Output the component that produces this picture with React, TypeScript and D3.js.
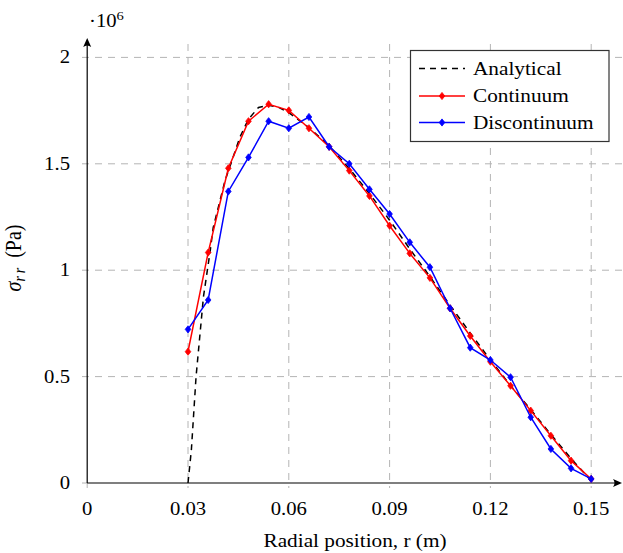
import React from "react";
import * as d3 from "d3";

const W = 623;
const H = 553;

const rPoints = [0.03, 0.036, 0.042, 0.048, 0.054, 0.06, 0.066, 0.072, 0.078, 0.084, 0.09, 0.096, 0.102, 0.108, 0.114, 0.12, 0.126, 0.132, 0.138, 0.144, 0.15];
const continuum = [0.617, 1.083, 1.479, 1.7, 1.78, 1.751, 1.667, 1.58, 1.468, 1.349, 1.209, 1.079, 0.964, 0.821, 0.691, 0.57, 0.457, 0.34, 0.222, 0.105, 0.019];
const discontinuum = [0.722, 0.86, 1.37, 1.53, 1.7, 1.667, 1.72, 1.58, 1.5, 1.38, 1.264, 1.131, 1.014, 0.821, 0.636, 0.578, 0.497, 0.309, 0.16, 0.069, 0.019];

const rAnalytical = [0.03, 0.031, 0.0324, 0.0346, 0.0366, 0.0375, 0.041, 0.0455, 0.048, 0.051, 0.054, 0.057, 0.06, 0.066, 0.072, 0.078, 0.084, 0.09, 0.096, 0.102, 0.108, 0.114, 0.12, 0.126, 0.132, 0.138, 0.144, 0.15];
const analytical = [0, 0.155, 0.5, 0.875, 1.09, 1.2, 1.42, 1.627, 1.71, 1.765, 1.775, 1.765, 1.74, 1.67, 1.585, 1.478, 1.36, 1.235, 1.1, 0.97, 0.835, 0.705, 0.578, 0.458, 0.345, 0.228, 0.115, 0.01];

const xTicks = [0, 0.03, 0.06, 0.09, 0.12, 0.15];
const xTickLabels = ["0", "0.03", "0.06", "0.09", "0.12", "0.15"];
const yTicks = [0, 0.5, 1, 1.5, 2];
const yTickLabels = ["0", "0.5", "1", "1.5", "2"];

const legendNames = ["Analytical", "Continuum", "Discontinuum"];

const FONT = "'Liberation Serif', 'DejaVu Serif', serif";
const SX = 1.12;

function T({ x, y, size, anchor = "start", children, style }: any) {
  return (
    <text
      transform={`translate(${x},${y}) scale(${SX},1)`}
      fontFamily={FONT}
      fontSize={size}
      textAnchor={anchor}
      fill="#000"
      style={style}
    >
      {children}
    </text>
  );
}

function Diamond({ cx, cy, color }: any) {
  const w = 2.8;
  const h = 3.6;
  return <path d={`M${cx},${cy - h}L${cx + w},${cy}L${cx},${cy + h}L${cx - w},${cy}Z`} fill={color} stroke={color} strokeWidth={0.8} />;
}

export default function App() {
  const x = d3.scaleLinear().domain([0, 0.15]).range([87.2, 591.2]);
  const y = d3.scaleLinear().domain([0, 2]).range([483, 57.4]);

  const line = d3
    .line<[number, number]>()
    .x((d) => x(d[0]))
    .y((d) => y(d[1]));

  const anaData: [number, number][] = rAnalytical.map((r, i) => [r, analytical[i]]);
  const conData: [number, number][] = rPoints.map((r, i) => [r, continuum[i]]);
  const disData: [number, number][] = rPoints.map((r, i) => [r, discontinuum[i]]);

  const x0 = x(0);
  const y0 = y(0);
  const gridColor = "#b4b4b4";

  const legendRows = [68.5, 96, 122.5];

  return (
    <svg width={W} height={H} style={{ position: "absolute", left: 0, top: 0, background: "#fff" }}>
      <rect x={0} y={0} width={W} height={H} fill="#fff" />
      {/* grid */}
      {yTicks.map((t) =>
        t === 0 ? null : (
          <line key={"gy" + t} x1={82} x2={623} y1={y(t)} y2={y(t)} stroke={gridColor} strokeWidth={1} strokeDasharray="7,6" />
        )
      )}
      {xTicks.map((t) =>
        t === 0 ? null : (
          <line key={"gx" + t} x1={x(t)} x2={x(t)} y1={44} y2={488} stroke={gridColor} strokeWidth={1} strokeDasharray="7,6" />
        )
      )}
      <line x1={82} x2={x0} y1={y0} y2={y0} stroke={gridColor} strokeWidth={1} />
      <line x1={x0} x2={x0} y1={y0} y2={488} stroke={gridColor} strokeWidth={1} />

      {/* axes */}
      <line x1={x0} x2={619} y1={y0} y2={y0} stroke="#000" strokeWidth={1.2} />
      <line x1={x0} x2={x0} y1={y0} y2={41} stroke="#000" strokeWidth={1.2} />
      <path d={`M622,${y0} L613,${y0 - 4} Q616,${y0} 613,${y0 + 4} Z`} fill="#000" />
      <path d={`M${x0},38 L${x0 - 4},47 Q${x0},44 ${x0 + 4},47 Z`} fill="#000" />

      {/* tick labels */}
      {xTicks.map((t, i) => (
        <T key={"xl" + t} x={x(t)} y={515} size={18.5} anchor="middle">
          {xTickLabels[i]}
        </T>
      ))}
      {yTicks.map((t, i) => (
        <T key={"yl" + t} x={70} y={y(t) + 6} size={18.5} anchor="end">
          {yTickLabels[i]}
        </T>
      ))}
      <T x={89} y={27} size={18.5}>
        <tspan>·10</tspan>
        <tspan dy={-7} fontSize={13}>6</tspan>
      </T>

      {/* axis titles */}
      <T x={355} y={547} size={19} anchor="middle">
        Radial position, r (m)
      </T>
      <text transform={`translate(21,258) rotate(-90) scale(1,${SX})`} fontFamily={FONT} fontSize={20} textAnchor="middle" fill="#000">
        <tspan fontStyle="italic">σ</tspan>
        <tspan fontStyle="italic" fontSize={14} dy={4}>{"r\u2009r"}</tspan>
        <tspan dy={-4}>{"\u00a0\u00a0(Pa)"}</tspan>
      </text>

      {/* series */}
      <path d={line(anaData) || ""} fill="none" stroke="#000" strokeWidth={1.5} strokeDasharray="6,5" />
      <path d={line(conData) || ""} fill="none" stroke="#ff0000" strokeWidth={1.5} />
      {conData.map((d, i) => (
        <Diamond key={"c" + i} cx={x(d[0])} cy={y(d[1])} color="#ff0000" />
      ))}
      <path d={line(disData) || ""} fill="none" stroke="#0000ff" strokeWidth={1.5} />
      {disData.map((d, i) => (
        <Diamond key={"d" + i} cx={x(d[0])} cy={y(d[1])} color="#0000ff" />
      ))}

      {/* legend */}
      <rect x={410.5} y={50.5} width={198.5} height={91} fill="#fff" stroke="#333" strokeWidth={1.2} />
      <line x1={419} x2={465} y1={legendRows[0]} y2={legendRows[0]} stroke="#000" strokeWidth={1.5} strokeDasharray="6,5" />
      <line x1={419} x2={465} y1={legendRows[1]} y2={legendRows[1]} stroke="#ff0000" strokeWidth={1.5} />
      <Diamond cx={442} cy={legendRows[1]} color="#ff0000" />
      <line x1={419} x2={465} y1={legendRows[2]} y2={legendRows[2]} stroke="#0000ff" strokeWidth={1.5} />
      <Diamond cx={442} cy={legendRows[2]} color="#0000ff" />
      {legendNames.map((n, i) => (
        <T key={n} x={473} y={legendRows[i] + 6} size={19}>
          {n}
        </T>
      ))}
    </svg>
  );
}
